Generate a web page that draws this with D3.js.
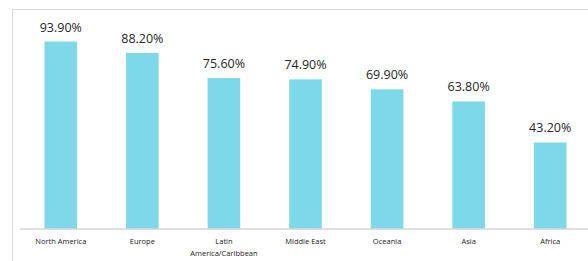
<!DOCTYPE html>
<html><head><meta charset="utf-8">
<script src="https://cdn.jsdelivr.net/npm/d3@7"></script>
<style>body{margin:0;background:#fff;}svg{display:block;}</style>
</head><body>
<script>
const categories = ["North America","Europe","Latin America/Caribbean","Middle East","Oceania","Asia","Africa"];
const categoryLines = [["North America"],["Europe"],["Latin","America/Caribbean"],["Middle East"],["Oceania"],["Asia"],["Africa"]];
const values = [93.9, 88.2, 75.6, 74.9, 69.9, 63.8, 43.2];
const valueLabels = ["93.90%","88.20%","75.60%","74.90%","69.90%","63.80%","43.20%"];

const W = 588, H = 261;
const svg = d3.select("body").append("svg").attr("width", W).attr("height", H);

// outer border
svg.append("rect").attr("x", 12.5).attr("y", 9.5).attr("width", 600).attr("height", 300)
  .attr("fill", "none").attr("stroke", "#d9d9d9").attr("stroke-width", 1);

const x = d3.scaleBand().domain(categories).range([20, 591]).paddingInner(0.6).paddingOuter(0.3);
const y = d3.scaleLinear().domain([0, 100]).range([228.5, 29.4]);

const data = categories.map((c, i) => ({c, v: values[i], lab: valueLabels[i], lines: categoryLines[i]}));

svg.selectAll("rect.bar").data(data).join("rect").attr("class", "bar")
  .attr("x", d => x(d.c)).attr("width", x.bandwidth())
  .attr("y", d => y(d.v)).attr("height", d => y(0) - y(d.v))
  .attr("fill", "#7dd9ea");

svg.selectAll("text.val").data(data).join("text").attr("class", "val")
  .attr("x", d => x(d.c) + x.bandwidth() / 2).attr("y", d => y(d.v) - 10)
  .attr("text-anchor", "middle").attr("font-family", "Open Sans, sans-serif")
  .attr("font-size", 12.5).attr("fill", "#262626").text(d => d.lab);

// axis
const axis = d3.axisBottom(x).tickSize(0).tickFormat("");
const g = svg.append("g").attr("transform", `translate(0,${y(0)})`).call(axis);
g.select(".domain").attr("stroke", "#bfbfbf").attr("stroke-width", 1.2).attr("d", "M20,0.5H591");

const lab = svg.selectAll("text.cat").data(data).join("text").attr("class", "cat")
  .attr("x", d => x(d.c) + x.bandwidth() / 2).attr("y", 244)
  .attr("text-anchor", "middle").attr("font-family", "Open Sans, sans-serif")
  .attr("font-size", 7.5).attr("fill", "#1a1a1a");
lab.selectAll("tspan").data(d => d.lines.map(l => ({l, x: x(d.c) + x.bandwidth() / 2}))).join("tspan")
  .attr("x", d => d.x).attr("dy", (d, i) => i === 0 ? 0 : 12).text(d => d.l);
</script>
</body></html>
